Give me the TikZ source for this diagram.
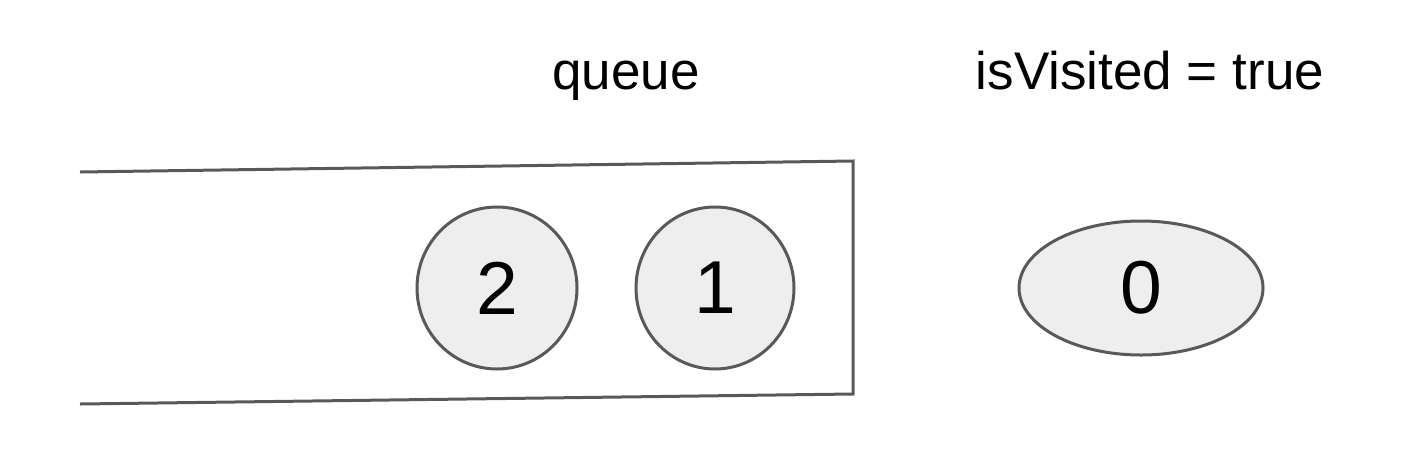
\documentclass[tikz,border=0pt]{standalone}
\usepackage{fontspec}
\setmainfont{Liberation Sans}
\usetikzlibrary{shapes.geometric}
\definecolor{edgegray}{HTML}{595959}
\definecolor{fillgray}{HTML}{EEEEEE}
\tikzset{
  item/.style={ellipse, draw=edgegray, fill=fillgray, line width=3pt, inner sep=0pt,
    font=\fontsize{75}{85}\selectfont},
  label/.style={font=\fontsize{53}{63}\selectfont, inner sep=0pt, anchor=base},
  wall/.style={draw=edgegray, line width=3pt}
}
\begin{document}
\begin{tikzpicture}[x=1pt,y=-1pt]
\useasboundingbox (0,0) rectangle (1424,464);
\node[label] (q) at (626,89) {queue};
\node[label] (v) at (1150,89) {isVisited = true};
\coordinate (tl) at (80,172);
\coordinate (tr) at (853,161);
\coordinate (bl) at (80,404);
\coordinate (br) at (853,394);
\draw[wall] (tl) -- (tr) -- (br) -- (bl);
\node[item, minimum width=160pt, minimum height=162pt] (n2) at (497,288) {2};
\node[item, minimum width=158pt, minimum height=162pt] (n1) at (715,288) {1};
\node[item, minimum width=244pt, minimum height=134pt] (n0) at (1141,288) {0};
\end{tikzpicture}
\end{document}
